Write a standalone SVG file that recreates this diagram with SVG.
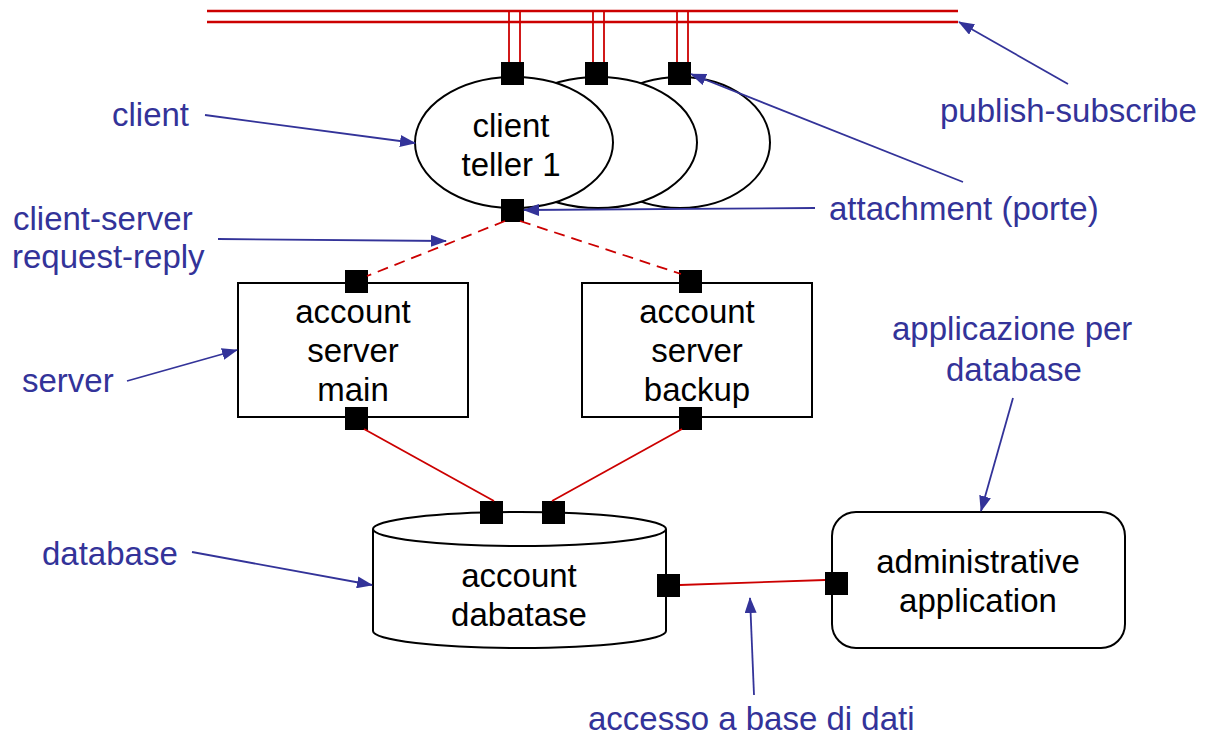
<svg xmlns="http://www.w3.org/2000/svg" width="1207" height="735" viewBox="0 0 1207 735">
  <style>
    .shape { fill: #ffffff; stroke: #000000; stroke-width: 2; }
    .port { fill: #000000; }
    .label { font-family: "Liberation Sans", Arial, sans-serif; font-size: 33px; fill: #000000; text-anchor: middle; }
    .note { font-family: "Liberation Sans", Arial, sans-serif; font-size: 33px; fill: #333399; }
    .bus { stroke: #cc0000; stroke-width: 2.5; fill: none; }
    .wire { stroke: #cc0000; stroke-width: 1.8; fill: none; }
    .rpc { stroke: #cc0000; stroke-width: 1.8; fill: none; stroke-dasharray: 11 7; }
    .pointer { stroke: #333399; stroke-width: 1.8; fill: none; marker-end: url(#arrow); }
  </style>
  <defs>
    <marker id="arrow" markerUnits="userSpaceOnUse" markerWidth="16" markerHeight="12" viewBox="0 0 16 12" refX="15" refY="6" orient="auto">
      <path d="M0,0 L16,6 L0,12 Z" fill="#333399"/>
    </marker>
  </defs>

  <!-- publish-subscribe bus and the taps to the client ports -->
  <g id="bus">
    <line class="bus" x1="207" y1="11" x2="958" y2="11"/>
    <line class="bus" x1="207" y1="22" x2="958" y2="22"/>
    <line class="wire" x1="509" y1="11" x2="509" y2="63"/>
    <line class="wire" x1="520" y1="11" x2="520" y2="63"/>
    <line class="wire" x1="593" y1="11" x2="593" y2="63"/>
    <line class="wire" x1="604" y1="11" x2="604" y2="63"/>
    <line class="wire" x1="677" y1="11" x2="677" y2="63"/>
    <line class="wire" x1="688" y1="11" x2="688" y2="63"/>
  </g>

  <!-- client instances, stacked back to front -->
  <g id="client-3">
    <ellipse class="shape" cx="680" cy="142.5" rx="90" ry="65.5"/>
    <rect class="port" x="668" y="62" width="23" height="23"/>
  </g>
  <g id="client-2">
    <ellipse class="shape" cx="598" cy="142.5" rx="99" ry="65.5"/>
    <rect class="port" x="585" y="62" width="23" height="23"/>
  </g>
  <g id="client-teller-1">
    <ellipse class="shape" cx="514" cy="142.5" rx="99" ry="65.5"/>
    <rect class="port" x="501" y="62" width="23" height="23"/>
    <rect class="port" x="501" y="199" width="23" height="23"/>
    <text class="label" x="511" y="137">client</text>
    <text class="label" x="511" y="176">teller 1</text>
  </g>

  <!-- servers -->
  <g id="server-main">
    <rect class="shape" x="238" y="283" width="230" height="134"/>
    <rect class="port" x="345" y="270" width="23" height="23"/>
    <rect class="port" x="345" y="407" width="23" height="23"/>
    <text class="label" x="353" y="323">account</text>
    <text class="label" x="353" y="362">server</text>
    <text class="label" x="353" y="401">main</text>
  </g>
  <g id="server-backup">
    <rect class="shape" x="582" y="283" width="230" height="134"/>
    <rect class="port" x="679" y="270" width="23" height="23"/>
    <rect class="port" x="679" y="407" width="23" height="23"/>
    <text class="label" x="697" y="323">account</text>
    <text class="label" x="697" y="362">server</text>
    <text class="label" x="697" y="401">backup</text>
  </g>

  <!-- account database cylinder -->
  <g id="account-database">
    <path class="shape" d="M373,529 L373,631 A146.5,17 0 0 0 666,631 L666,529"/>
    <ellipse class="shape" cx="519.5" cy="529" rx="146.5" ry="17"/>
    <rect class="port" x="480" y="501" width="23" height="23"/>
    <rect class="port" x="542" y="501" width="23" height="23"/>
    <rect class="port" x="657" y="574" width="23" height="23"/>
    <text class="label" x="519" y="587">account</text>
    <text class="label" x="519" y="626">dabatase</text>
  </g>

  <!-- administrative application -->
  <g id="admin-app">
    <rect class="shape" x="832" y="512" width="293" height="136" rx="24" ry="24"/>
    <rect class="port" x="825" y="572" width="23" height="23"/>
    <text class="label" x="978" y="573">administrative</text>
    <text class="label" x="978" y="612">application</text>
  </g>

  <!-- connectors between ports -->
  <g id="connectors">
    <line class="rpc" x1="505" y1="221" x2="367" y2="276"/>
    <line class="rpc" x1="520" y1="221" x2="681" y2="274"/>
    <line class="wire" x1="364" y1="429" x2="494" y2="501"/>
    <line class="wire" x1="682" y1="429" x2="552" y2="501"/>
    <line class="wire" x1="680" y1="585" x2="825" y2="580"/>
  </g>

  <!-- annotations -->
  <g id="annotations">
    <text class="note" x="112" y="126">client</text>
    <line class="pointer" x1="205" y1="115" x2="415" y2="143"/>
    <text class="note" x="13" y="230">client-server</text>
    <text class="note" x="12" y="268">request-reply</text>
    <line class="pointer" x1="218" y1="239" x2="446" y2="241"/>
    <text class="note" x="22" y="392">server</text>
    <line class="pointer" x1="127" y1="381" x2="237" y2="350"/>
    <text class="note" x="42" y="565">database</text>
    <line class="pointer" x1="192" y1="552" x2="372" y2="585"/>
    <text class="note" x="940" y="122">publish-subscribe</text>
    <line class="pointer" x1="1068" y1="84" x2="959" y2="22"/>
    <text class="note" x="829" y="220">attachment (porte)</text>
    <line class="pointer" x1="963" y1="182" x2="691" y2="74"/>
    <line class="pointer" x1="815" y1="208" x2="524" y2="210"/>
    <text class="note" x="892" y="340">applicazione per</text>
    <text class="note" x="946" y="381">database</text>
    <line class="pointer" x1="1013" y1="398" x2="981" y2="511"/>
    <text class="note" x="588" y="730">accesso a base di dati</text>
    <line class="pointer" x1="754" y1="695" x2="750" y2="598"/>
  </g>
</svg>
